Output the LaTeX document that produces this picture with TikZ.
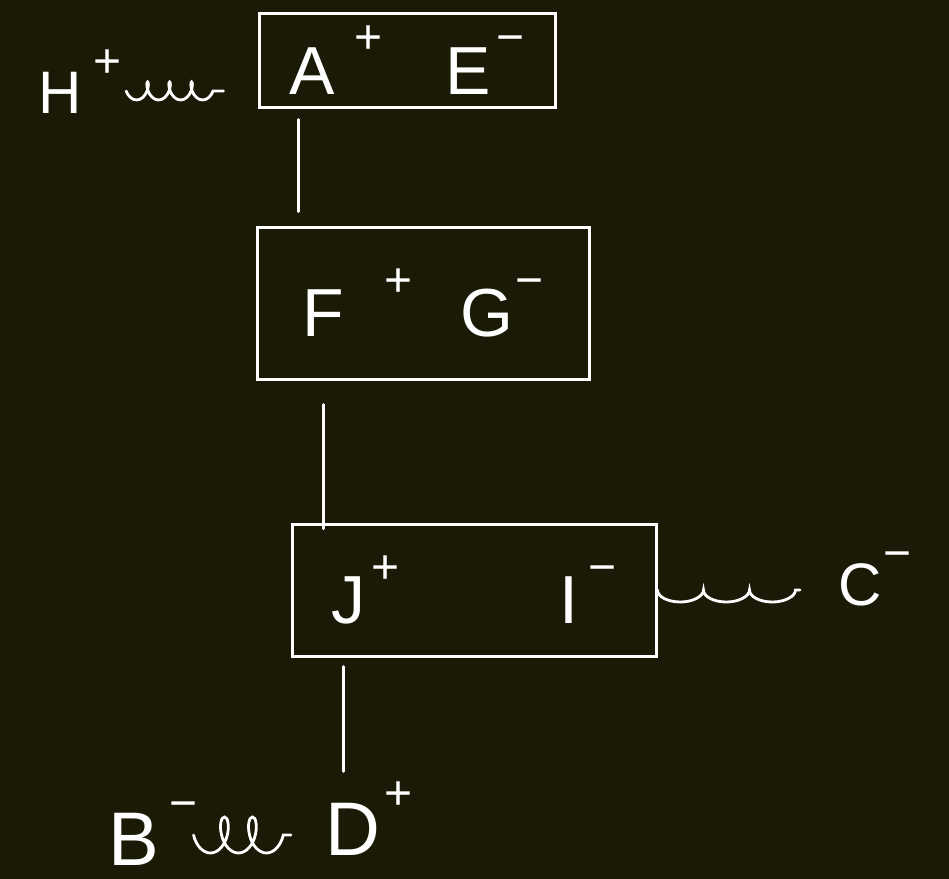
\documentclass[tikz,border=0pt]{standalone}
\usepackage{fontspec}
\setmainfont{Liberation Sans}
\usepackage{tikz}
\usetikzlibrary{calc,decorations.pathmorphing}
\usepackage{xcolor}
\definecolor{bgdark}{HTML}{1B1A06}
\definecolor{chalk}{HTML}{FFFFFF}
\newcommand{\charged}[3][3pt]{#2\hspace{#1}\raisebox{0.6em}{\fontsize{24}{24}\selectfont #3}}
\tikzset{
  part/.style={line width=1.5pt, draw=chalk},
  ionbox/.style={part, rectangle, inner sep=0pt, text=chalk, font=\fontsize{34}{34}\selectfont},
  iontext/.style={text=chalk, inner sep=0pt, anchor=base west},
  link/.style={line width=1.5pt, draw=chalk, line cap=round},
  spring/.style={line width=1.4pt, draw=chalk, line cap=round, decorate, decoration={coil, mirror, aspect=0.55, segment length=11pt, amplitude=4.5pt}},
  ripple/.style={line width=1.4pt, draw=chalk, line cap=round, decorate, decoration={bumps, mirror, segment length=46pt, amplitude=6pt}},
}

\begin{document}
\begin{tikzpicture}[x=0.5pt, y=-0.5pt]
  % background 949 x 879
  \fill[bgdark] (0,0) rectangle (949,879);
  % three boxes, top to bottom
  \node[ionbox, minimum width=148pt, minimum height=47pt] (boxAE) at (407,60) {\charged[10pt]{A}{+}\hspace{31pt}\charged{E}{−}};
  \node[ionbox, minimum width=166pt, minimum height=76pt] (boxFG) at (423,303) {\charged[20pt]{F}{+}\hspace{24pt}\charged[1pt]{G}{−}};
  \node[ionbox, minimum width=182pt, minimum height=66pt] (boxJI) at (474,590) {\charged{J}{+}\hspace{80pt}\charged[5pt]{I}{−}};
  % free ions
  \node[iontext, font=\fontsize{30}{30}\selectfont] (ionH) at (38,113) {\charged[6pt]{H}{+}};
  \node[iontext, font=\fontsize{30}{30}\selectfont] (ionC) at (838,605) {\charged[1pt]{C}{−}};
  \node[iontext, font=\fontsize{38}{38}\selectfont] (ionB) at (108,865) {\charged[5pt]{B}{−}};
  \node[iontext, font=\fontsize{38}{38}\selectfont] (ionD) at (325,855) {\charged[2pt]{D}{+}};
  % vertical chain
  \draw[link, shorten <=5.5pt, shorten >=7pt] ([xshift=20.5pt]boxAE.south west) -- ([xshift=20.5pt]boxAE.south west |- boxFG.north);
  \draw[link, shorten <=12pt, shorten >=-3pt] ([xshift=16.5pt]boxJI.north west |- boxFG.south) -- ([xshift=16.5pt]boxJI.north west);
  \draw[link, shorten <=4.5pt, shorten >=5pt] ([xshift=26.5pt]boxJI.south west) -- ([xshift=26.5pt]boxJI.south west |- ionD.north);
  % wavy bonds
  \draw[spring] ($(ionH.base east)+(2pt,11pt)$) -- ($(ionH.base east -| boxAE.west)+(-17pt,11pt)$);
  \draw[ripple] (boxJI.east) -- ($(boxJI.east -| ionC.west)+(-19pt,0pt)$);
  \draw[spring, decoration={segment length=14pt, amplitude=9pt}] ($(ionB.base east)+(-2pt,15pt)$) -- ($(ionB.base east -| ionD.west)+(-17pt,15pt)$);
\end{tikzpicture}
\end{document}
